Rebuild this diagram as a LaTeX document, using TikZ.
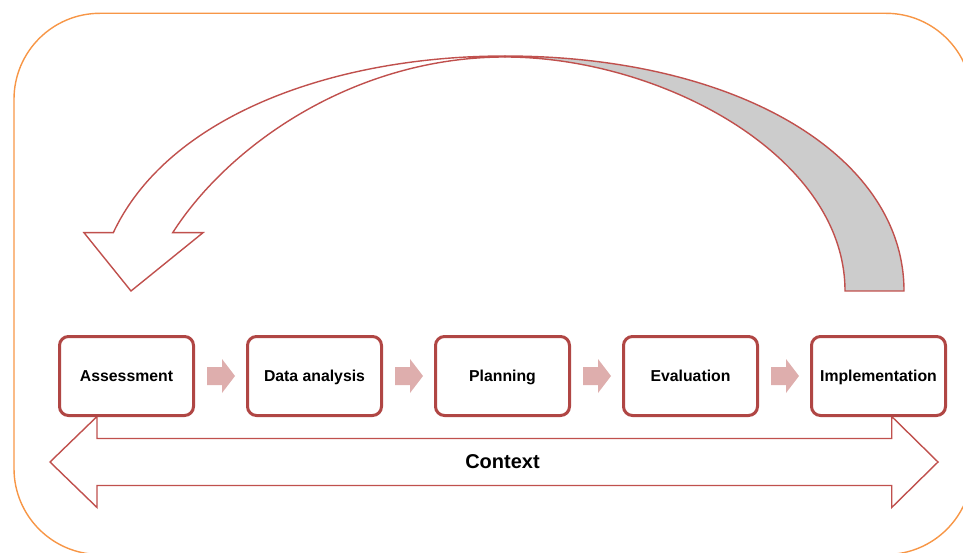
\documentclass[tikz,border=0pt]{standalone}
\usepackage{fontspec}
\setmainfont{Liberation Sans}
\usetikzlibrary{calc}

\definecolor{frameorange}{RGB}{247,150,70}
\definecolor{boxred}{RGB}{176,70,68}
\definecolor{linered}{RGB}{192,80,77}
\definecolor{steppink}{RGB}{222,174,173}
\definecolor{backgray}{RGB}{204,204,204}

\tikzset{
  stagebox/.style={draw=boxred, line width=3pt, fill=white, rounded corners=9pt,
    minimum width=134pt, minimum height=79pt, inner sep=0pt,
    text height=14.6pt, text depth=3.3pt,
    font=\fontsize{15.8}{18}\selectfont\bfseries},
  steparrow/.style={fill=steppink, draw=none},
  cyclearrow/.style={draw=linered, line width=1.4pt, line join=miter},
  ctxarrow/.style={draw=linered, line width=1.4pt, fill=white, line join=miter},
  ctxlabel/.style={font=\fontsize{20}{24}\selectfont\bfseries, inner sep=0pt},
  outerframe/.style={draw=frameorange, line width=1.4pt, rounded corners=86pt}
}

\begin{document}
\begin{tikzpicture}[x=1pt,y=1pt]
\useasboundingbox (0,0) rectangle (963,552);

% rounded orange frame, running off the right and bottom edges
\begin{scope}
  \clip (0,0) rectangle (963,552);
  \draw[outerframe] (14,-2.5) rectangle (972,538.7);
\end{scope}

% feedback arrow: front (white) half ending in the arrow head
\draw[cyclearrow, fill=white]
  (505,496) .. controls (335,496) and (168.4,437) .. (113.3,319.3)
  -- (84,319.3) -- (131,261) -- (203,319.3) -- (172.7,319.3)
  .. controls (229.3,407.7) and (355,495) .. (505,495) -- cycle;

% feedback arrow: back (grey) half with the tail
\draw[cyclearrow, fill=backgray]
  (505,496) .. controls (736,496) and (904,397) .. (904,261)
  -- (845,261)
  .. controls (845,397) and (660,495) .. (505,495) -- cycle;

% double-headed context arrow
\draw[ctxarrow]
  (50,90) -- (97,135.5) -- (97,113.5) -- (891.7,113.5) -- (891.7,135.5)
  -- (938,90) -- (891.7,44.5) -- (891.7,66.5) -- (97,66.5) -- (97,44.5) -- cycle;
\node[ctxlabel] (ctx) at (502.5,90) {Context};

% process stages
\node[stagebox] (b1) at (126.5,176) {Assessment};
\node[stagebox] (b2) at (314.5,176) {Data analysis};
\node[stagebox] (b3) at (502.5,176) {Planning};
\node[stagebox] (b4) at (690.5,176) {Evaluation};
\node[stagebox] (b5) at (878.5,176) {Implementation};

% block arrows between consecutive stages
\foreach \a/\b in {b1/b2, b2/b3, b3/b4, b4/b5}{
  \fill[steparrow] ($(\a.east)+(12,9)$) -- ++(15,0) -- ++(0,8) -- ++(13,-17)
    -- ++(-13,-17) -- ++(0,8) -- ++(-15,0) -- cycle;
}
\end{tikzpicture}
\end{document}
